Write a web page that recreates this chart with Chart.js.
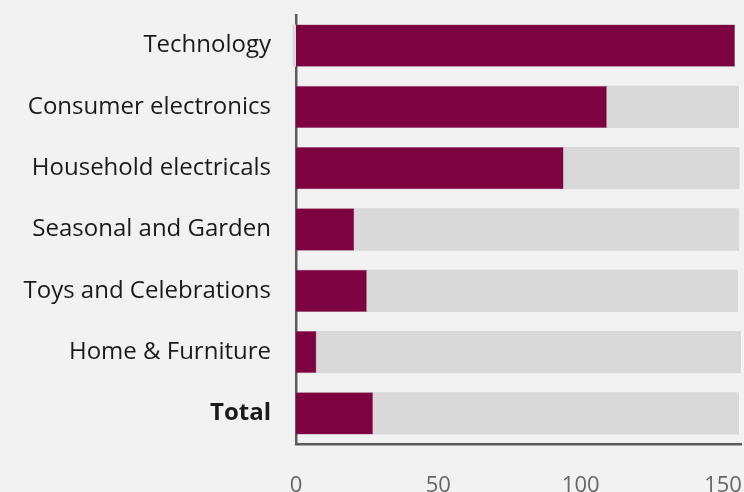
<!DOCTYPE html>
<html>
<head>
<meta charset="utf-8">
<script src="https://cdn.jsdelivr.net/npm/chart.js@4/dist/chart.umd.min.js"></script>
<style>
  html, body { margin: 0; padding: 0; background: #f2f2f2; }
  #wrap { width: 744px; height: 492px; }
</style>
</head>
<body>
<div id="wrap"><canvas id="salesChart" width="744" height="492"></canvas></div>
<script>
// Categories and values
const categories = ['Technology', 'Consumer electronics', 'Household electricals', 'Seasonal and Garden', 'Toys and Celebrations', 'Home & Furniture', 'Total'];
const shareValues = [154.2, 109.2, 94.0, 20.5, 24.9, 7.2, 27.1];
const remainderValues = [-1.2, 46.4, 61.8, 135.2, 130.3, 149.1, 128.5];
const xTicks = [0, 50, 100, 150];

const labelFont = "'Open Sans', 'Noto Sans', sans-serif";

// keep the plot area where we put it, no extra room for edge labels
function noPadding(scale) {
    scale.paddingLeft = 0;
    scale.paddingRight = 0;
    scale.paddingTop = 0;
    scale.paddingBottom = 0;
}

const ctx = document.getElementById('salesChart').getContext('2d');

new Chart(ctx, {
    type: 'bar',
    data: {
        labels: categories,
        datasets: [{
            data: shareValues,
            backgroundColor: '#7d0340',
            borderColor: '#9a4a72',
            borderWidth: 0.6,
            borderSkipped: 'start',
            barPercentage: 0.69,
            categoryPercentage: 1
        }, {
            data: remainderValues,
            backgroundColor: '#d9d9d9',
            borderWidth: 0,
            barPercentage: 0.69,
            categoryPercentage: 1,
            clip: false
        }]
    },
    options: {
        indexAxis: 'y',
        responsive: false,
        animation: false,
        layout: { padding: { top: 15, right: 3, left: 0, bottom: 0 } },
        plugins: {
            legend: { display: false },
            tooltip: { enabled: false }
        },
        scales: {
            x: {
                stacked: true,
                min: 0,
                max: 156.3,
                z: 1,
                afterBuildTicks: scale => {
                    scale.ticks = xTicks.map(v => ({ value: v }));
                },
                afterFit: scale => {
                    scale.height = 48;
                    noPadding(scale);
                },
                grid: { display: false, drawTicks: false },
                border: { display: true, color: '#5a5a5a', width: 2.5 },
                ticks: {
                    padding: 29,
                    color: '#666666',
                    font: { family: labelFont, size: 22 }
                }
            },
            y: {
                stacked: true,
                z: 1,
                afterFit: scale => {
                    scale.width = 296;
                    noPadding(scale);
                },
                grid: { display: false, drawTicks: false },
                border: { display: true, color: '#5a5a5a', width: 2.5 },
                ticks: {
                    padding: 25,
                    color: '#1a1a1a',
                    font: ctx2 => ({
                        family: labelFont,
                        size: 24,
                        weight: ctx2.index === categories.length - 1 ? 'bold' : 'normal'
                    })
                }
            }
        }
    }
});
</script>
</body>
</html>
